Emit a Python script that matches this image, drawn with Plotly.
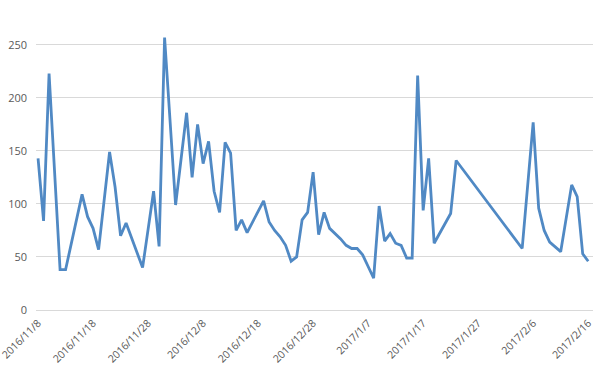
import plotly.graph_objects as go
import pandas as pd

dates = [
    "2016-11-08", "2016-11-09", "2016-11-10", "2016-11-12", "2016-11-13",
    "2016-11-16", "2016-11-17", "2016-11-18", "2016-11-19", "2016-11-21",
    "2016-11-22", "2016-11-23", "2016-11-24", "2016-11-27", "2016-11-29",
    "2016-11-30", "2016-12-01", "2016-12-03", "2016-12-05", "2016-12-06",
    "2016-12-07", "2016-12-08", "2016-12-09", "2016-12-10", "2016-12-11",
    "2016-12-12", "2016-12-13", "2016-12-14", "2016-12-15", "2016-12-16",
    "2016-12-19", "2016-12-20", "2016-12-21", "2016-12-22", "2016-12-23",
    "2016-12-24", "2016-12-25", "2016-12-26", "2016-12-27", "2016-12-28",
    "2016-12-29", "2016-12-30", "2016-12-31", "2017-01-01", "2017-01-02",
    "2017-01-03", "2017-01-04", "2017-01-05", "2017-01-06", "2017-01-07",
    "2017-01-08", "2017-01-09", "2017-01-10", "2017-01-11", "2017-01-12",
    "2017-01-13", "2017-01-14", "2017-01-15", "2017-01-16", "2017-01-17",
    "2017-01-18", "2017-01-19", "2017-01-22", "2017-01-23", "2017-02-04",
    "2017-02-06", "2017-02-07", "2017-02-08", "2017-02-09", "2017-02-11",
    "2017-02-13", "2017-02-14", "2017-02-15", "2017-02-16",
]
values = [
    143, 84, 223, 38, 38,
    109, 88, 77, 57, 149,
    116, 70, 82, 40, 112,
    60, 257, 99, 186, 125,
    175, 138, 159, 112, 92,
    158, 148, 75, 85, 73,
    103, 83, 75, 69, 61,
    46, 50, 85, 92, 130,
    71, 92, 77, 72, 67,
    61, 58, 58, 52, 41,
    30, 98, 65, 72, 63,
    61, 49, 49, 221, 94,
    143, 63, 91, 141, 58,
    177, 96, 75, 64, 55,
    118, 107, 53, 46,
]
tick_dates = ["2016-11-08", "2016-11-18", "2016-11-28", "2016-12-08", "2016-12-18",
              "2016-12-28", "2017-01-07", "2017-01-17", "2017-01-27", "2017-02-06",
              "2017-02-16"]
tick_labels = ["2016/11/8", "2016/11/18", "2016/11/28", "2016/12/8", "2016/12/18",
               "2016/12/28", "2017/1/7", "2017/1/17", "2017/1/27", "2017/2/6",
               "2017/2/16"]

fig = go.Figure(go.Scatter(
    x=dates, y=values, mode="lines",
    line=dict(color="#5089C4", width=2.8),
))

start = pd.Timestamp("2016-11-08") - pd.Timedelta(hours=9)
end = pd.Timestamp("2017-02-16") + pd.Timedelta(hours=21)

fig.update_layout(
    width=606, height=367,
    margin=dict(l=36, r=13, t=29, b=57),
    paper_bgcolor="white", plot_bgcolor="white",
    showlegend=False,
    font=dict(family="Open Sans, Liberation Sans, sans-serif", color="#595959", size=11),
    xaxis=dict(
        type="date", range=[start, end], automargin=False,
        tickvals=tick_dates, ticktext=tick_labels, tickangle=-45,
        ticklabeloverflow="allow", ticklabelstandoff=4,
        showgrid=False, zeroline=False, showline=False, ticks="",
        tickfont=dict(size=10.5, color="#595959"),
    ),
    yaxis=dict(
        range=[0, 265], tickvals=[0, 50, 100, 150, 200, 250], automargin=False,
        showgrid=True, gridcolor="#D9D9D9", gridwidth=1,
        zeroline=True, zerolinecolor="#D9D9D9", zerolinewidth=1,
        showline=False, ticks="", ticklabelstandoff=8,
        tickfont=dict(size=11, color="#595959"),
    ),
)

fig.write_html("out.html")
